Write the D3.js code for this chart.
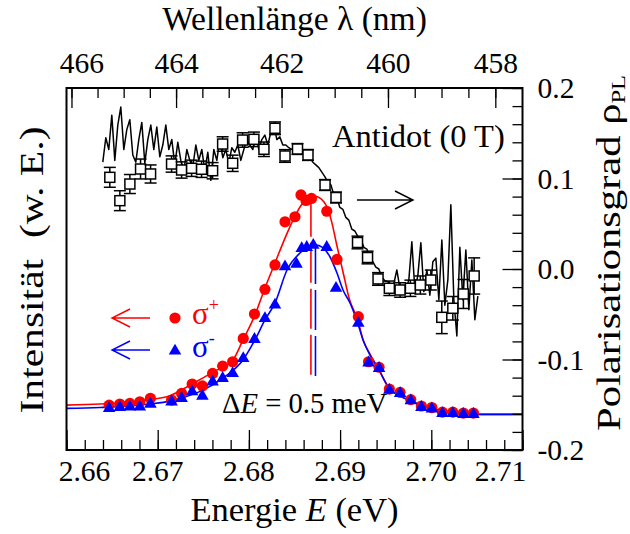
<!DOCTYPE html>
<html>
<head>
<meta charset="utf-8">
<script src="https://cdn.jsdelivr.net/npm/d3@7"></script>
<style>
  body { margin: 0; background: #fff; }
  svg { display: block; }
  text { font-family: "Liberation Serif", "Times New Roman", Times, serif; fill: #000; }
</style>
</head>
<body>
<svg id="chart" width="630" height="534"></svg>
<script>
// ---- axes ----
const energyDomain = [2.66, 2.71];          // eV, bottom axis
const rhoDomain = [-0.2, 0.2];              // degree of polarisation, right axis
const intensityDomain = [-0.161, 1.484];    // arbitrary units (no axis drawn)
const energyTicks = [2.66, 2.67, 2.68, 2.69, 2.70, 2.71];
const wavelengthTicks = [458, 460, 462, 464, 466];
const rhoTicks = [-0.2, -0.1, 0.0, 0.1, 0.2];

// ---- PL intensity, sigma+ : [E (eV), I (a.u.)] ----
const sigmaPlus = [
  [2.66467, 0.043], [2.66585, 0.048], [2.66695, 0.051], [2.66804, 0.058], [2.66920, 0.074],
  [2.67152, 0.066], [2.67262, 0.096], [2.67378, 0.139], [2.67490, 0.130], [2.67602, 0.187],
  [2.67712, 0.220], [2.67822, 0.240], [2.67938, 0.346], [2.68061, 0.457], [2.68176, 0.569],
  [2.68286, 0.680], [2.68396, 0.876], [2.68505, 0.899], [2.68571, 0.998], [2.68626, 0.973],
  [2.68686, 0.982], [2.68854, 0.924], [2.68966, 0.705], [2.69200, 0.445], [2.69312, 0.240],
  [2.69427, 0.215], [2.69540, 0.116], [2.69658, 0.101], [2.69775, 0.068], [2.69891, 0.039],
  [2.70006, 0.032], [2.70122, 0.011], [2.70236, 0.011], [2.70352, 0.007], [2.70462, 0.007]
];

// ---- PL intensity, sigma- : [E (eV), I (a.u.)] ----
const sigmaMinus = [
  [2.66467, 0.028], [2.66585, 0.033], [2.66695, 0.035], [2.66804, 0.035], [2.66920, 0.048],
  [2.67152, 0.058], [2.67262, 0.074], [2.67378, 0.104], [2.67490, 0.084], [2.67602, 0.149],
  [2.67712, 0.165], [2.67822, 0.187], [2.67938, 0.255], [2.68061, 0.342], [2.68176, 0.437],
  [2.68286, 0.498], [2.68396, 0.672], [2.68522, 0.684], [2.68579, 0.755], [2.68634, 0.760],
  [2.68706, 0.770], [2.68853, 0.760], [2.68955, 0.574], [2.69200, 0.415], [2.69312, 0.235],
  [2.69427, 0.210], [2.69540, 0.111], [2.69658, 0.096], [2.69775, 0.063], [2.69891, 0.033],
  [2.70006, 0.026], [2.70122, 0.005], [2.70236, 0.005], [2.70352, 0.001], [2.70462, 0.001]
];

// ---- line-shape fits : [E (eV), I (a.u.)] ----
const fitPlus = [
  [2.66000, 0.043], [2.66365, 0.048], [2.66695, 0.057], [2.66914, 0.068], [2.67134, 0.086],
  [2.67386, 0.141], [2.67606, 0.193], [2.67825, 0.248], [2.67935, 0.339], [2.68066, 0.452],
  [2.68176, 0.575], [2.68286, 0.689], [2.68396, 0.802], [2.68505, 0.902], [2.68582, 0.957],
  [2.68648, 0.984], [2.68703, 0.993], [2.68758, 0.989], [2.68824, 0.966], [2.68857, 0.943],
  [2.68911, 0.870], [2.68966, 0.766], [2.69032, 0.648], [2.69098, 0.530], [2.69197, 0.425],
  [2.69252, 0.339], [2.69328, 0.275], [2.69416, 0.211], [2.69537, 0.120], [2.69658, 0.084],
  [2.69767, 0.064], [2.69888, 0.043], [2.70009, 0.028], [2.70239, 0.008], [2.70459, 0.001],
  [2.71000, 0.001]
];
const fitMinus = [
  [2.66000, 0.028], [2.66365, 0.032], [2.66695, 0.039], [2.66914, 0.048], [2.67134, 0.061],
  [2.67298, 0.080], [2.67496, 0.111], [2.67715, 0.166], [2.67935, 0.248], [2.68066, 0.339],
  [2.68176, 0.430], [2.68286, 0.507], [2.68418, 0.657], [2.68560, 0.734], [2.68670, 0.766],
  [2.68736, 0.770], [2.68802, 0.761], [2.68890, 0.716], [2.68966, 0.643], [2.69032, 0.566],
  [2.69109, 0.507], [2.69197, 0.411], [2.69252, 0.339], [2.69328, 0.270], [2.69416, 0.211],
  [2.69537, 0.120], [2.69658, 0.084], [2.69767, 0.064], [2.69888, 0.043], [2.70009, 0.028],
  [2.70239, 0.008], [2.70459, 0.001], [2.71000, 0.001]
];

// peak positions of the two fits (dashed markers), [E (eV), I (a.u.)]
const peakPlus = [2.6868, 0.990];
const peakMinus = [2.6873, 0.775];
const peakMarkerFloor = 0.166;

// ---- degree of polarisation with error: [E (eV), rho, error] ----
const rhoPoints = [
  [2.66475, 0.1013, 0.011], [2.66585, 0.0755, 0.011], [2.66695, 0.0939, 0.0105], [2.66812, 0.1105, 0.011],
  [2.66922, 0.1050, 0.010], [2.67152, 0.1160, 0.009], [2.67262, 0.1094, 0.009], [2.67372, 0.1113, 0.009],
  [2.67481, 0.1102, 0.009], [2.67602, 0.1086, 0.009], [2.67712, 0.1381, 0.008], [2.67822, 0.1168, 0.009],
  [2.67931, 0.1425, 0.008], [2.68055, 0.1433, 0.008], [2.68165, 0.1323, 0.008], [2.68286, 0.1555, 0.007],
  [2.68396, 0.1249, 0.007], [2.68533, 0.1326, 0.006], [2.68648, 0.1260, 0.006], [2.68835, 0.0928, 0.006],
  [2.68955, 0.0790, 0.006], [2.69191, 0.0293, 0.007], [2.69301, 0.0127, 0.007], [2.69416, -0.0110, 0.007],
  [2.69540, -0.0213, 0.008], [2.69658, -0.0232, 0.008], [2.69771, -0.0213, 0.009], [2.69880, -0.0177, 0.010],
  [2.69995, -0.0122, 0.011], [2.70115, -0.0534, 0.018], [2.70236, -0.0434, 0.013], [2.70352, -0.0276, 0.016],
  [2.70470, -0.0077, 0.020]
];

// ---- high-resolution polarisation trace, evenly sampled in energy ----
const rhoTraceStart = 2.66398;   // eV
const rhoTraceStep = 0.000329;   // eV
const rhoTrace = [
  0.118, 0.145, 0.132, 0.170, 0.120, 0.159, 0.179, 0.132, 0.154, 0.165,
  0.126, 0.118, 0.143, 0.162, 0.117, 0.143, 0.159, 0.132, 0.157, 0.124,
  0.137, 0.159, 0.132, 0.143, 0.115, 0.140, 0.120, 0.108, 0.132, 0.120,
  0.113, 0.137, 0.120, 0.132, 0.109, 0.129, 0.098, 0.132, 0.120, 0.143,
  0.123, 0.132, 0.117, 0.134, 0.129, 0.137, 0.120, 0.132, 0.143, 0.137,
  0.132, 0.148, 0.132, 0.143, 0.148, 0.137, 0.151, 0.161, 0.143, 0.146,
  0.137, 0.137, 0.134, 0.132, 0.135, 0.132, 0.128, 0.126, 0.125, 0.123,
  0.118, 0.115, 0.112, 0.107, 0.102, 0.096, 0.093, 0.082, 0.079, 0.068,
  0.066, 0.057, 0.054, 0.044, 0.042, 0.036, 0.033, 0.024, 0.022, 0.013,
  0.008, 0.002, 0.000, -0.009, -0.013, -0.014, -0.017, -0.016, -0.001, -0.021,
  -0.018, -0.023, -0.012, 0.030, -0.023, -0.007, 0.029, -0.025, -0.001, -0.029,
  0.008, 0.012, -0.034, 0.032, -0.040, -0.012, 0.071, -0.034, -0.074, 0.024,
  -0.034, 0.021, -0.045, 0.010, -0.056, -0.030
];

// ---- layout ----
const frame = { left: 66.5, right: 522.5, top: 88, bottom: 450 };
const hc = 1239.84; // eV nm
const RED = "#ff0000", BLUE = "#0000ff";

const svg = d3.select("#chart");
const x = d3.scaleLinear().domain(energyDomain).range([frame.left, frame.right]);
const yRho = d3.scaleLinear().domain(rhoDomain).range([frame.bottom, frame.top]);
const yInt = d3.scaleLinear().domain(intensityDomain).range([frame.bottom, frame.top]);

// ---- fitted curves ----
const fitLine = d3.line().x(d => x(d[0])).y(d => yInt(d[1])).curve(d3.curveMonotoneX);
svg.append("path").datum(fitPlus).attr("d", fitLine)
  .attr("fill", "none").attr("stroke", RED).attr("stroke-width", 1.6);
svg.append("path").datum(fitMinus).attr("d", fitLine)
  .attr("fill", "none").attr("stroke", BLUE).attr("stroke-width", 1.6);

// ---- dashed peak markers ----
[[peakPlus, RED], [peakMinus, BLUE]].forEach(([p, c]) => {
  svg.append("line")
    .attr("x1", x(p[0])).attr("x2", x(p[0]))
    .attr("y1", yInt(p[1])).attr("y2", yInt(peakMarkerFloor))
    .attr("stroke", c).attr("stroke-width", 1.6).attr("stroke-dasharray", "40,6");
});

// ---- intensity symbols ----
svg.append("g").selectAll("circle").data(sigmaPlus).join("circle")
  .attr("cx", d => x(d[0])).attr("cy", d => yInt(d[1])).attr("r", 5.6).attr("fill", RED);
const tri = d3.symbol().type(d3.symbolTriangle).size(68);
svg.append("g").selectAll("path").data(sigmaMinus).join("path")
  .attr("d", tri).attr("transform", d => `translate(${x(d[0])},${yInt(d[1])})`).attr("fill", BLUE);

// ---- polarisation trace ----
const traceLine = d3.line()
  .x((d, i) => x(rhoTraceStart + i * rhoTraceStep))
  .y(d => yRho(d));
svg.append("path").datum(rhoTrace).attr("d", traceLine)
  .attr("fill", "none").attr("stroke", "#000").attr("stroke-width", 1.5)
  .attr("stroke-linejoin", "round");

// ---- polarisation points with error bars ----
const gP = svg.append("g").attr("stroke", "#000").attr("stroke-width", 1.5);
const pts = gP.selectAll("g").data(rhoPoints).join("g");
pts.append("line")
  .attr("x1", d => x(d[0])).attr("x2", d => x(d[0]))
  .attr("y1", d => yRho(d[1] - d[2])).attr("y2", d => yRho(d[1] + d[2]));
pts.append("line")
  .attr("x1", d => x(d[0]) - 6).attr("x2", d => x(d[0]) + 6)
  .attr("y1", d => yRho(d[1] + d[2])).attr("y2", d => yRho(d[1] + d[2]));
pts.append("line")
  .attr("x1", d => x(d[0]) - 6).attr("x2", d => x(d[0]) + 6)
  .attr("y1", d => yRho(d[1] - d[2])).attr("y2", d => yRho(d[1] - d[2]));
pts.append("rect")
  .attr("x", d => x(d[0]) - 5).attr("y", d => yRho(d[1]) - 5)
  .attr("width", 10).attr("height", 10).attr("fill", "#fff");

// ---- ticks (all pointing into the plot) ----
function tickAxis(axis, transform) {
  const g = svg.append("g").attr("transform", transform).call(axis);
  g.select(".domain").remove();
  g.selectAll("line").attr("stroke", "#000").attr("stroke-width", 1.3);
  g.selectAll("text").remove();
  return g;
}
// bottom: energy
tickAxis(d3.axisTop(x).tickValues(x.ticks(25)).tickSize(10), `translate(0,${frame.bottom})`);
tickAxis(d3.axisTop(x).tickValues(energyTicks).tickSize(20), `translate(0,${frame.bottom})`);
// top: wavelength (E = hc / lambda)
const xLambda = lam => x(hc / lam);
const topMinor = d3.range(458, 466.01, 0.5);
[[topMinor, 10], [wavelengthTicks, 20]].forEach(([vals, len]) => {
  svg.append("g").selectAll("line").data(vals).join("line")
    .attr("x1", d => xLambda(d)).attr("x2", d => xLambda(d))
    .attr("y1", frame.top).attr("y2", frame.top + len)
    .attr("stroke", "#000").attr("stroke-width", 1.3);
});
// right: polarisation
tickAxis(d3.axisLeft(yRho).tickValues(yRho.ticks(20)).tickSize(10), `translate(${frame.right},0)`);
tickAxis(d3.axisLeft(yRho).tickValues(rhoTicks).tickSize(20), `translate(${frame.right},0)`);

// ---- frame ----
svg.append("rect")
  .attr("x", frame.left).attr("y", frame.top)
  .attr("width", frame.right - frame.left).attr("height", frame.bottom - frame.top)
  .attr("fill", "none").attr("stroke", "#000").attr("stroke-width", 2);

// ---- tick labels ----
const edgeShift = new Map([[2.66, 18], [2.71, -22], [466, 10]]);
svg.append("g").selectAll("text").data(energyTicks).join("text")
  .attr("x", d => x(d) + (edgeShift.get(d) || 0)).attr("y", 481)
  .attr("text-anchor", "middle").style("font-size", "29.5px")
  .text(d => d.toFixed(2));
svg.append("g").selectAll("text").data(wavelengthTicks).join("text")
  .attr("x", d => xLambda(d) + (edgeShift.get(d) || 0)).attr("y", 73)
  .attr("text-anchor", "middle").style("font-size", "29.5px")
  .text(d => d);
svg.append("g").selectAll("text").data(rhoTicks).join("text")
  .attr("x", frame.right + 15).attr("y", d => yRho(d) + 10)
  .style("font-size", "29.5px")
  .text(d => d.toFixed(1));

// ---- axis titles ----
const xMid = (frame.left + frame.right) / 2;
svg.append("text").attr("x", xMid).attr("y", 30).attr("text-anchor", "middle")
  .style("font-size", "33.5px").text("Wellenlänge λ (nm)");
const bt = svg.append("text").attr("x", xMid).attr("y", 521).attr("text-anchor", "middle")
  .style("font-size", "34.5px");
bt.append("tspan").text("Energie ");
bt.append("tspan").style("font-style", "italic").text("E");
bt.append("tspan").text(" (eV)");

// vertical titles are set a little stretched along their reading direction
svg.append("text").attr("transform", "translate(43,270) rotate(-90) scale(1.26,1)")
  .attr("text-anchor", "middle").style("font-size", "33px")
  .text("Intensität\u00a0\u00a0(w. E.)");
const rt = svg.append("text").attr("transform", "translate(620,253) rotate(-90) scale(1.29,1)")
  .attr("text-anchor", "middle").style("font-size", "33px");
rt.append("tspan").text("Polarisationsgrad ρ");
rt.append("tspan").attr("dy", 5).style("font-size", "19px").text("PL");

// ---- annotations ----
function arrow(x1, x2, y, color) {
  const dir = Math.sign(x2 - x1);
  svg.append("path")
    .attr("d", `M${x1},${y}H${x2}M${x2 - dir * 18},${y - 9}L${x2},${y}L${x2 - dir * 18},${y + 9}`)
    .attr("fill", "none").attr("stroke", color).attr("stroke-width", 1.4);
}
svg.append("text").attr("x", 332).attr("y", 147).style("font-size", "32.5px").text("Antidot (0 T)");
arrow(357, 413, 200, "#000");

arrow(150, 112, 318, RED);
svg.append("circle").attr("cx", 175).attr("cy", 318).attr("r", 5.6).attr("fill", RED);
const sp = svg.append("text").attr("x", 192).attr("y", 324).style("font-size", "31px").style("fill", RED);
sp.append("tspan").text("σ");
sp.append("tspan").attr("dy", -13).style("font-size", "18px").text("+");

arrow(150, 112, 350, BLUE);
svg.append("path").attr("d", tri).attr("transform", "translate(175,351)").attr("fill", BLUE);
const sm = svg.append("text").attr("x", 192).attr("y", 357).style("font-size", "31px").style("fill", BLUE);
sm.append("tspan").text("σ");
sm.append("tspan").attr("dy", -13).style("font-size", "18px").text("-");

const de = svg.append("text").attr("x", 222).attr("y", 413).style("font-size", "28.7px");
de.append("tspan").text("Δ");
de.append("tspan").style("font-style", "italic").text("E");
de.append("tspan").text(" = 0.5 meV");
</script>
</body>
</html>
